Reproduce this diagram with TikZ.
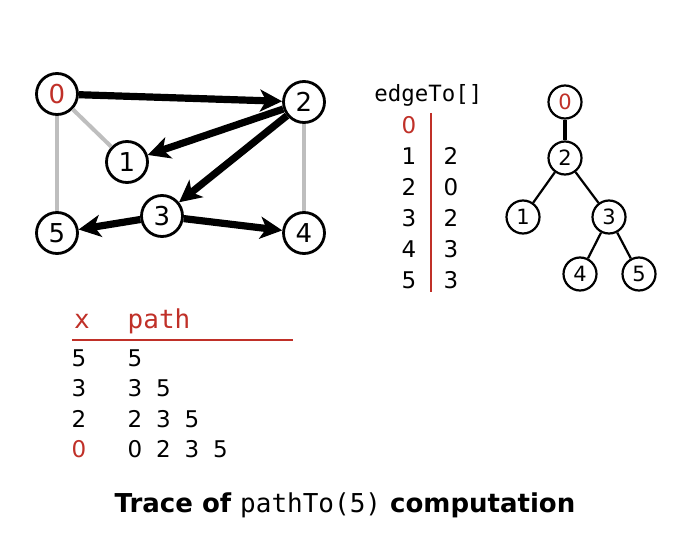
\documentclass[tikz,border=0pt]{standalone}
\usepackage{fontspec}
\setmainfont{DejaVu Sans}
\setmonofont{DejaVu Sans Mono}
\usetikzlibrary{arrows.meta}
\definecolor{tracered}{RGB}{192,48,40}
\definecolor{edgegray}{RGB}{190,190,190}
\begin{document}
\begin{tikzpicture}[x=0.5pt, y=-0.5pt,
   vertex/.style={circle, draw, fill=white, line width=1.4pt, minimum size=20.5pt, inner sep=0pt, text height=9.5pt, text depth=0pt, font=\fontsize{13}{13}\selectfont},
   treevertex/.style={circle, draw, fill=white, line width=1.1pt, minimum size=16.5pt, inner sep=0pt, text height=7.6pt, text depth=0pt, font=\fontsize{10.5}{10.5}\selectfont},
   pathedge/.style={line width=3.6pt, -{Stealth[length=11pt, width=11pt, inset=3pt]}},
   otheredge/.style={edgegray, line width=2pt},
   treeedge/.style={line width=1.1pt},
   entry/.style={font=\fontsize{11.5}{11.5}\selectfont, inner sep=0pt, text height=8.4pt, text depth=0pt},
   header/.style={font=\ttfamily\fontsize{13}{13}\selectfont, text=tracered, inner sep=0pt, anchor=base},
   ]
   \useasboundingbox (0,0) rectangle (688,534);
   \def\rowA{125}; % first row of edgeTo[]
   \def\dyA{31};
   \def\rowB{358}; % first row of the trace
   \def\dyB{30.5};
   \def\dxB{28.5};
   % graph
   \node[vertex, text=tracered] (g0) at (57,94) {0};
   \node[vertex] (g1) at (127,162) {1};
   \node[vertex] (g2) at (304,102) {2};
   \node[vertex] (g3) at (162,216) {3};
   \node[vertex] (g4) at (304,233) {4};
   \node[vertex] (g5) at (57,233) {5};
   \draw[otheredge] (g0) -- (g1);
   \draw[otheredge] (g0) -- (g5);
   \draw[otheredge] (g2) -- (g4);
   \draw[pathedge] (g0) -- (g2);
   \draw[pathedge] (g2) -- (g1);
   \draw[pathedge] (g2) -- (g3);
   \draw[pathedge] (g3) -- (g5);
   \draw[pathedge] (g3) -- (g4);
   % edgeTo[] array
   \node[font=\ttfamily\fontsize{11.2}{11.2}\selectfont, anchor=base west, inner sep=0pt] (etitle) at (374,102) {edgeTo[]};
   \draw[tracered, line width=1.2pt] (431,113) -- (431,292);   % separator
   \node[entry, text=tracered] (v0) at (409,\rowA) {0};
   \foreach \v/\e in {1/2,2/0,3/2,4/3,5/3} {
      \node[entry] (v\v) at (409,\rowA+\dyA*\v) {\v};
      \node[entry] (e\v) at (451,\rowA+\dyA*\v) {\e};
   }
   % tree of paths
   \node[treevertex, text=tracered] (t0) at (565,102) {0};
   \node[treevertex] (t2) at (565,158) {2};
   \node[treevertex] (t1) at (523,217) {1};
   \node[treevertex] (t3) at (609,217) {3};
   \node[treevertex] (t4) at (580,274) {4};
   \node[treevertex] (t5) at (639,274) {5};
   \draw[treeedge, line width=1.6pt] (t0) -- (t2);
   \draw[treeedge] (t2) -- (t1);
   \draw[treeedge] (t2) -- (t3);
   \draw[treeedge] (t3) -- (t4);
   \draw[treeedge] (t3) -- (t5);
   % trace of the path
   \node[header] (hx) at (82,328) {x};
   \node[header] (hpath) at (159,328) {path};
   \draw[tracered, line width=1.2pt] (72,340) -- (293,340);   % rule
   \foreach \x/\p/\c [count=\i from 0] in {5/{5}/black, 3/{3,5}/black, 2/{2,3,5}/black, 0/{0,2,3,5}/tracered} {
      \node[entry, text=\c] (x\i) at (79,\rowB+\dyB*\i) {\x};
      \foreach \q [count=\j from 0] in \p
         \node[entry] (p\i\j) at (135+\dxB*\j,\rowB+\dyB*\i) {\q};
   }
   % caption
   \node[font=\bfseries\fontsize{13}{13}\selectfont, anchor=base] (caption) at (345,512)
      {Trace of {\mdseries\ttfamily pathTo(5)} computation};
\end{tikzpicture}
\end{document}
